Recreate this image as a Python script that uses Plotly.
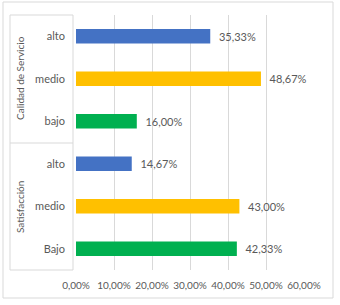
import plotly.graph_objects as go

groups = ["Calidad de Servicio", "Calidad de Servicio", "Calidad de Servicio",
          "Satisfacción", "Satisfacción", "Satisfacción"]
levels = ["alto", "medio", "bajo", "alto", "medio", "Bajo"]
values = [35.33, 48.67, 16.00, 14.67, 43.00, 42.33]
colors = ["#4472C4", "#FFC000", "#00B050", "#4472C4", "#FFC000", "#00B050"]
x_ticks = [0, 10, 20, 30, 40, 50, 60]
x_tick_labels = ["0,00%", "10,00%", "20,00%", "30,00%", "40,00%", "50,00%", "60,00%"]
group_names = ["Calidad de Servicio", "Satisfacción"]

keys = [f"{g}|{l}" for g, l in zip(groups, levels)]
labels = ["  " + f"{v:.2f}".replace(".", ",") + "%" for v in values]

FONT = "Lato"
GRAY = "#595959"

fig = go.Figure(go.Bar(
    y=keys, x=values, orientation="h",
    marker=dict(color=colors, line=dict(width=0)),
    text=labels, textposition="outside", cliponaxis=False,
    textfont=dict(family=FONT, size=11, color=GRAY),
    hoverinfo="skip",
))

W, H = 340, 305
L, R, T, B = 76, 36, 15, 35
pw, ph = W - L - R, H - T - B

def px(x):
    return (x - L) / pw

def py(y):
    return 1 - (y - T) / ph

shapes = []
# outer chart border
shapes.append(dict(type="rect", xref="paper", yref="paper",
                   x0=px(3), x1=px(333), y0=py(298), y1=py(2),
                   line=dict(color="#D9D9D9", width=1), layer="below"))
# group boxes
line_style = dict(color="#D9D9D9", width=1)
for yy in [15, 143, 270]:
    shapes.append(dict(type="line", xref="paper", yref="paper",
                       x0=px(10), x1=px(73), y0=py(yy), y1=py(yy), line=line_style))
for xx in [10, 73]:
    shapes.append(dict(type="line", xref="paper", yref="paper",
                       x0=px(xx), x1=px(xx), y0=py(15), y1=py(270), line=line_style))

annotations = []
for name, yc in zip(group_names, [78, 207]):
    annotations.append(dict(text=name, xref="paper", yref="paper",
                            x=px(20), y=py(yc), showarrow=False, textangle=-90,
                            xanchor="center", yanchor="middle",
                            font=dict(family=FONT, size=10, color=GRAY)))

fig.update_layout(
    width=W, height=H,
    margin=dict(l=L, r=R, t=T, b=B, pad=0),
    paper_bgcolor="white", plot_bgcolor="white",
    showlegend=False, bargap=0.66,
    font=dict(family=FONT, size=11, color=GRAY),
    xaxis=dict(range=[0, 60], tickvals=x_ticks, ticktext=x_tick_labels,
               showgrid=True, gridcolor="#D9D9D9", gridwidth=1,
               zeroline=False, showline=False, ticks="", tickangle=0,
               ticklabelstandoff=8,
               tickfont=dict(family=FONT, size=10, color=GRAY), fixedrange=True),
    yaxis=dict(categoryorder="array", categoryarray=keys, autorange="reversed",
               tickvals=keys, ticktext=levels, showgrid=False, zeroline=False,
               showline=False, ticks="", ticklabelstandoff=10,
               tickfont=dict(family=FONT, size=11, color=GRAY), fixedrange=True),
    shapes=shapes, annotations=annotations,
)

fig.write_html("out.html", config={"displayModeBar": False},
               post_script="document.body.style.margin='0';")
